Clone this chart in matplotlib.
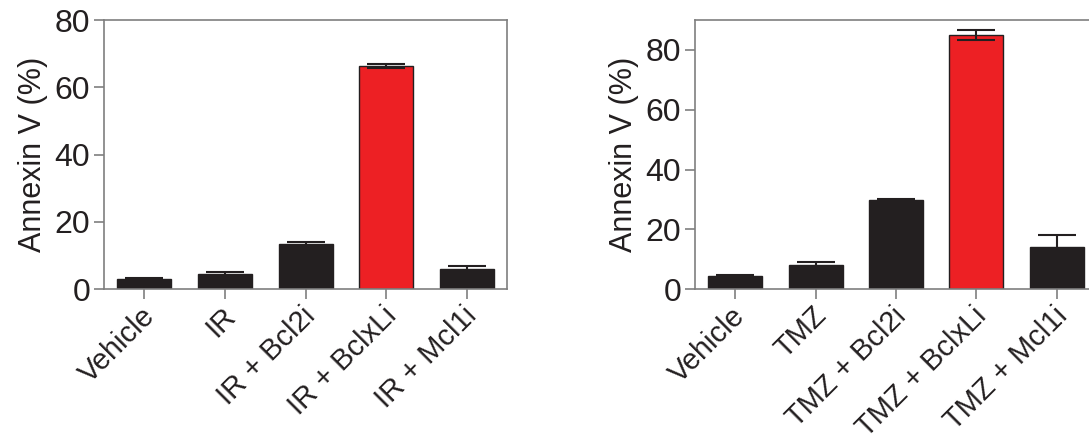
import matplotlib
matplotlib.use("Agg")
import matplotlib.pyplot as plt
import matplotlib.transforms as mtransforms

plt.rcParams['font.family'] = ['Liberation Sans', 'DejaVu Sans']

labels_ir = ["Vehicle", "IR", "IR + Bcl2i", "IR + BclxLi", "IR + Mcl1i"]
values_ir = [3.0, 4.4, 13.4, 66.4, 6.0]
errors_ir = [0.2, 0.7, 0.7, 0.6, 0.9]

labels_tmz = ["Vehicle", "TMZ", "TMZ + Bcl2i", "TMZ + BclxLi", "TMZ + Mcl1i"]
values_tmz = [4.5, 8.0, 29.9, 85.0, 14.0]
errors_tmz = [0.3, 1.0, 0.4, 1.6, 4.1]

highlight_index = 3
black = "#231f20"
red = "#ed2024"
spine_gray = "#7f7f7f"

fig = plt.figure(figsize=(10.89, 4.42), dpi=100)
ax1 = fig.add_axes([0.0955, 0.346, 0.3701, 0.6086])
ax2 = fig.add_axes([0.6382, 0.346, 0.3691, 0.6086])


def draw(ax, labels, values, errors, ylim, yticks):
    x = list(range(len(labels)))
    colors = [red if i == highlight_index else black for i in x]
    ax.bar(x, values, width=0.67, color=colors, edgecolor=black, linewidth=1.0, zorder=2)
    ax.errorbar(x, values, yerr=errors, fmt='none', ecolor=black, elinewidth=1.5,
                capsize=14, capthick=1.5, zorder=3)
    ax.set_xlim(-0.5, len(labels) - 0.5)
    ax.set_ylim(*ylim)
    ax.set_yticks(yticks)
    ax.set_xticks(x)
    ax.set_xticklabels(labels, rotation=45, ha='right', va='top', rotation_mode='anchor',
                       fontsize=21)
    ax.tick_params(axis='y', labelsize=23, length=7, width=1.2, color=spine_gray, pad=3,
                   labelcolor=black)
    ax.tick_params(axis='x', length=7, width=1.2, color=spine_gray, pad=2, labelcolor=black)
    offset = mtransforms.ScaledTranslation(-4 / 100, 0, fig.dpi_scale_trans)
    for lab in ax.get_xticklabels():
        lab.set_transform(lab.get_transform() + offset)
    for s in ax.spines.values():
        s.set_color(spine_gray)
        s.set_linewidth(1.2)
    ax.set_ylabel("Annexin V (%)", fontsize=22, color=black, labelpad=5)


draw(ax1, labels_ir, values_ir, errors_ir, (0, 80), [0, 20, 40, 60, 80])
draw(ax2, labels_tmz, values_tmz, errors_tmz, (0, 90), [0, 20, 40, 60, 80])

fig.savefig("out.png", dpi=100)
